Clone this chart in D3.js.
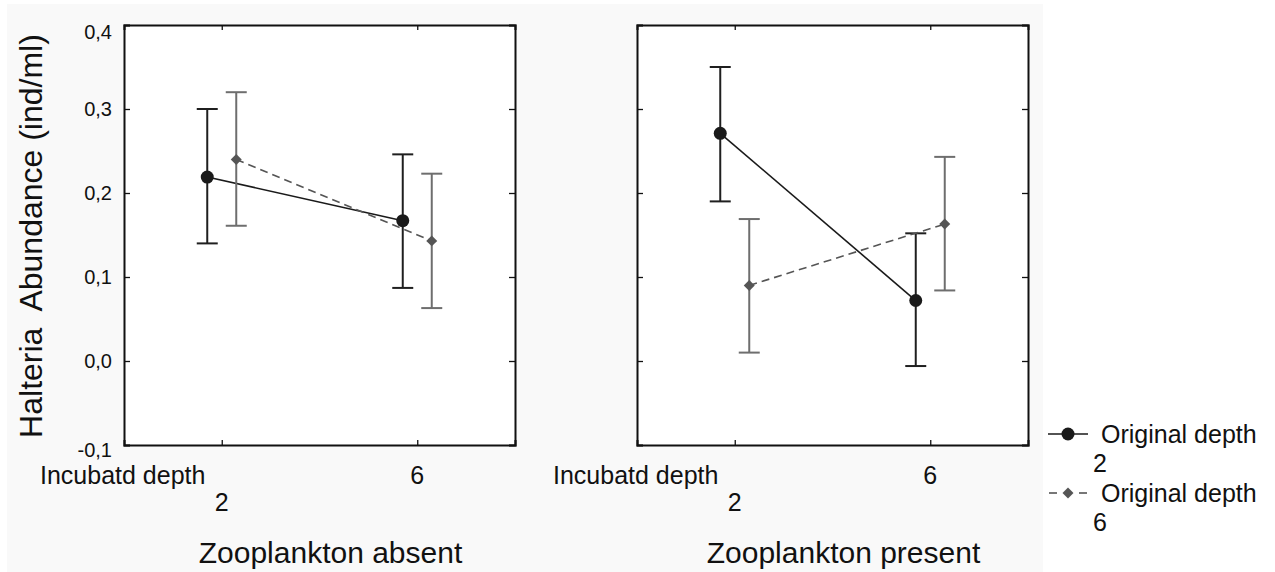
<!DOCTYPE html>
<html>
<head>
<meta charset="utf-8">
<script src="https://cdn.jsdelivr.net/npm/d3@7"></script>
<style>
  html, body { margin: 0; padding: 0; background: #ffffff; }
  svg { display: block; font-family: "Liberation Sans", Arial, sans-serif; }
</style>
</head>
<body>
<svg id="chart" width="1275" height="572"></svg>
<script>
// Halteria abundance by incubation depth, original depth and zooplankton treatment
const panels = ["Zooplankton absent", "Zooplankton present"];
const incubatedDepths = ["2", "6"];
const seriesNames = ["Original depth 2", "Original depth 6"];
const yTicks = [-0.1, 0.0, 0.1, 0.2, 0.3, 0.4];

// means and error-bar limits, one array per panel, values per incubated depth
const origDepth2Mean  = [[0.219, 0.167], [0.271, 0.072]];
const origDepth2Upper = [[0.300, 0.246], [0.350, 0.152]];
const origDepth2Lower = [[0.140, 0.087], [0.190, -0.006]];
const origDepth6Mean  = [[0.240, 0.143], [0.090, 0.163]];
const origDepth6Upper = [[0.320, 0.223], [0.169, 0.243]];
const origDepth6Lower = [[0.161, 0.063], [0.010, 0.084]];

const svg = d3.select("#chart");
const ink = "#111111";

// light frame behind the panels
svg.append("rect").attr("x", 7).attr("y", 4).attr("width", 1036).attr("height", 568)
  .attr("fill", "#f9f9f9");

const y = d3.scaleLinear().domain([-0.1, 0.4]).range([445, 25]);
const locale = d3.formatLocale({ decimal: ",", thousands: ".", grouping: [3], currency: ["", ""], minus: "-" });
const fmt = locale.format(".1f");

const panelX = [[124, 515], [637, 1028]];
const offset = 14.5;

const series = [
  { name: seriesNames[0], mean: origDepth2Mean, upper: origDepth2Upper, lower: origDepth2Lower,
    dx: -offset, line: "#1a1a1a", bar: "#1f1f1f", dash: null, marker: "circle", fill: "#1a1a1a" },
  { name: seriesNames[1], mean: origDepth6Mean, upper: origDepth6Upper, lower: origDepth6Lower,
    dx: offset, line: "#555555", bar: "#6e6e6e", dash: "8,5", marker: "diamond", fill: "#555555" }
];

function drawMarker(g, kind, cx, cy, fill) {
  if (kind === "circle") {
    g.append("circle").attr("cx", cx).attr("cy", cy).attr("r", 6.5).attr("fill", fill);
  } else {
    g.append("path")
      .attr("d", d3.symbol(d3.symbolSquare, 60)())
      .attr("transform", `translate(${cx},${cy}) rotate(45)`)
      .attr("fill", fill);
  }
}

panels.forEach((title, pi) => {
  const [x0, x1] = panelX[pi];
  const x = d3.scalePoint().domain(incubatedDepths).range([x0, x1]).padding(0.5);
  const g = svg.append("g");

  g.append("rect").attr("x", x0).attr("y", 25).attr("width", x1 - x0).attr("height", 420)
    .attr("fill", "#ffffff");

  // inward ticks on all four sides
  const axL = d3.axisLeft(y).tickValues(yTicks).tickSize(-6).tickFormat(pi === 0 ? fmt : "");
  const axR = d3.axisRight(y).tickValues(yTicks).tickSize(-6).tickFormat("");
  const axB = d3.axisBottom(x).tickSize(-5).tickFormat("");
  const axT = d3.axisTop(x).tickSize(-5).tickFormat("");

  const gl = g.append("g").attr("transform", `translate(${x0},0)`).call(axL);
  g.append("g").attr("transform", `translate(${x1},0)`).call(axR);
  g.append("g").attr("transform", `translate(0,445)`).call(axB);
  g.append("g").attr("transform", `translate(0,25)`).call(axT);

  g.selectAll(".domain").attr("stroke", ink).attr("stroke-width", 2);
  g.selectAll(".tick line").attr("stroke", ink).attr("stroke-width", 1.3);

  gl.attr("font-size", 20).attr("font-family", "Liberation Sans, Arial, sans-serif");
  gl.selectAll(".tick text")
    .attr("x", -12)
    .style("font-size", "20px")
    .attr("fill", ink)
    .attr("dy", d => d === 0.4 ? "13px" : d === -0.1 ? "11px" : "0.32em");

  // category labels under the panel
  g.append("text").attr("x", x0 - 84).attr("y", 484).attr("font-size", 25).attr("fill", ink)
    .text("Incubatd depth");
  g.append("text").attr("x", x(incubatedDepths[0])).attr("y", 511).attr("font-size", 25)
    .attr("text-anchor", "middle").attr("fill", ink).text(incubatedDepths[0]);
  g.append("text").attr("x", x(incubatedDepths[1])).attr("y", 484).attr("font-size", 25)
    .attr("text-anchor", "middle").attr("fill", ink).text(incubatedDepths[1]);

  g.append("text").attr("x", (x0 + x1) / 2 + 11).attr("y", 563).attr("font-size", 30)
    .attr("text-anchor", "middle").attr("fill", ink).text(title);

  // error bars, connecting lines, markers
  series.forEach(s => {
    const pts = incubatedDepths.map((d, i) => ({
      cx: x(d) + s.dx, m: s.mean[pi][i], hi: s.upper[pi][i], lo: s.lower[pi][i]
    }));
    pts.forEach(p => {
      g.append("line").attr("x1", p.cx).attr("x2", p.cx).attr("y1", y(p.hi)).attr("y2", y(p.lo))
        .attr("stroke", s.bar).attr("stroke-width", 2);
      [p.hi, p.lo].forEach(v => {
        g.append("line").attr("x1", p.cx - 10.5).attr("x2", p.cx + 10.5).attr("y1", y(v)).attr("y2", y(v))
          .attr("stroke", s.bar).attr("stroke-width", 2);
      });
    });
    g.append("path")
      .attr("d", d3.line().x(p => p.cx).y(p => y(p.m))(pts))
      .attr("fill", "none").attr("stroke", s.line).attr("stroke-width", 1.6)
      .attr("stroke-dasharray", s.dash);
    pts.forEach(p => drawMarker(g, s.marker, p.cx, y(p.m), s.fill));
  });
});

// y-axis title
svg.append("text")
  .attr("transform", "translate(42,236) rotate(-90)")
  .attr("text-anchor", "middle").attr("font-size", 32).attr("fill", ink)
  .style("white-space", "pre")
  .text("Halteria  Abundance (ind/ml)");

// legend
const legend = svg.append("g");
const legendRows = [434, 493];
series.forEach((s, i) => {
  const ly = legendRows[i];
  if (s.dash) {
    legend.append("line").attr("x1", 1049).attr("x2", 1057).attr("y1", ly).attr("y2", ly)
      .attr("stroke", s.line).attr("stroke-width", 1.6);
    legend.append("line").attr("x1", 1079).attr("x2", 1087).attr("y1", ly).attr("y2", ly)
      .attr("stroke", s.line).attr("stroke-width", 1.6);
  } else {
    legend.append("line").attr("x1", 1048).attr("x2", 1088).attr("y1", ly).attr("y2", ly)
      .attr("stroke", s.line).attr("stroke-width", 1.6);
  }
  drawMarker(legend, s.marker, 1068, ly, s.fill);
  const words = s.name.split(" ");
  legend.append("text").attr("x", 1101).attr("y", ly + 9).attr("font-size", 25).attr("fill", ink)
    .text(words.slice(0, 2).join(" "));
  legend.append("text").attr("x", 1093).attr("y", ly + 38).attr("font-size", 25).attr("fill", ink)
    .text(words[2]);
});
</script>
</body>
</html>
